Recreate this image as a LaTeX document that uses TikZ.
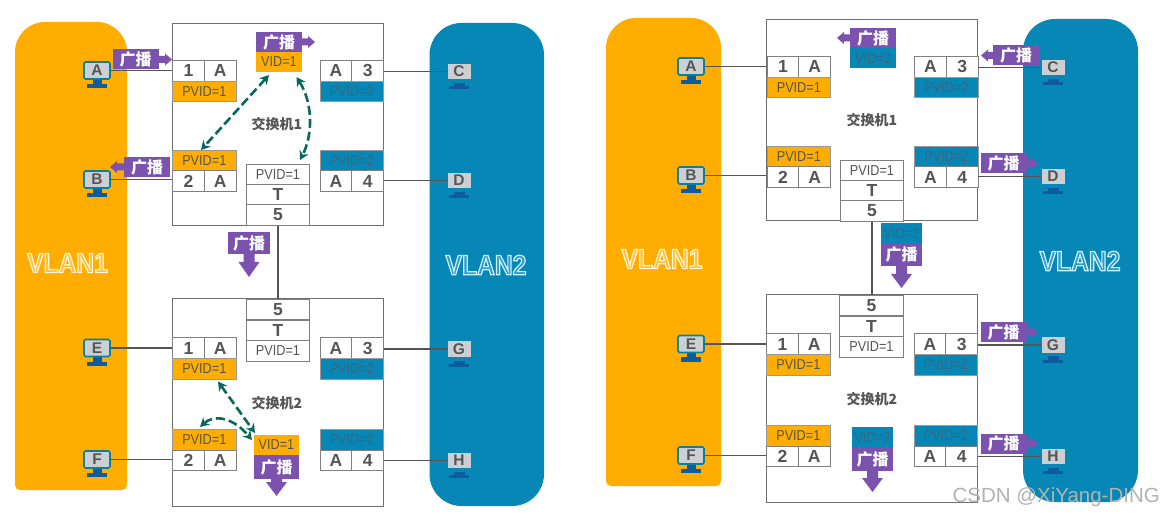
\documentclass[tikz,border=0pt]{standalone}
\usepackage{fontspec}
\setmainfont{Liberation Sans}
\newfontfamily\narrowf[FakeStretch=0.88]{Liberation Sans}
\newfontfamily\cjk{Noto Sans CJK SC}
\usetikzlibrary{arrows.meta}
\definecolor{vo}{HTML}{FFAD00}
\definecolor{vb}{HTML}{0687B5}
\definecolor{pu}{HTML}{7B52AE}
\definecolor{gl}{HTML}{555555}
\definecolor{dg}{HTML}{08695A}
\definecolor{tl}{HTML}{0B7F9E}
\definecolor{nv}{HTML}{0D5CA0}
\definecolor{scr}{HTML}{CDD0D3}
\definecolor{vofill}{HTML}{FFC23D}
\definecolor{vbfill}{HTML}{2E9CC6}
\definecolor{bt}{HTML}{3A6680}
\newcommand{\outlW}[1]{\special{pdf:code 2 Tr 1.2 w 1 0.96 0.85 RG}#1\special{pdf:code 0 Tr}}
\newcommand{\outlB}[1]{\special{pdf:code 2 Tr 1.2 w 0.8 0.95 1 RG}#1\special{pdf:code 0 Tr}}
\tikzset{
 x=1pt,y=-1pt,
 sw/.style={draw=gl!85,line width=1pt,fill=white,inner sep=0},
 cell/.style={draw=gl!75,line width=0.8pt,fill=white,minimum height=20.6pt,inner sep=0,text=gl,font=\bfseries\fontsize{17.5}{17.5}\selectfont},
 ptag/.style={cell,font=\narrowf\fontsize{14.4}{14.4}\selectfont},
 oc/.style={ptag,fill=vo,draw=gl!60,minimum width=63.5pt},
 bc/.style={ptag,fill=vb,draw=gl!60,minimum width=63.5pt,text=bt},
 wc/.style={ptag,minimum width=63.5pt},
 lnk/.style={draw=gl,line width=1.3pt},
 trunk/.style={draw=gl,line width=2.8pt},
 sname/.style={font=\cjk\bfseries\fontsize{14}{14}\selectfont,text=gl},
 bcast/.style={fill=pu,text=white,inner sep=0,font=\cjk\bfseries\fontsize{16}{16}\selectfont},
 vtag/.style={inner sep=0,font=\narrowf\fontsize{14.4}{14.4}\selectfont},
 vlan/.style={inner sep=0,font=\narrowf\bfseries\fontsize{28}{28}\selectfont},
 flow/.style={draw=dg,line width=2.6pt,dash pattern=on 9pt off 4pt,{Stealth[length=9pt,width=10pt]}-{Stealth[length=9pt,width=10pt]}},
 hostl/.style={inner sep=0,text=gl,font=\bfseries\fontsize{15.5}{15.5}\selectfont},
}
\newcommand{\hostL}[4]{%
 \fill[nv] (#3-10,#4+13.5) rectangle (#3+10,#4+17.5);
 \fill[nv] (#3-4.5,#4+9) rectangle (#3+4.5,#4+14);
 \node[draw=tl,line width=1.6pt,fill=scr,minimum width=26pt,minimum height=17pt,rounded corners=1.5pt,hostl] (#1) at (#3,#4) {#2};
}
\newcommand{\hostR}[4]{%
 \fill[nv] (#3-10,#4+14.5) rectangle (#3+10,#4+17.5);
 \fill[nv] (#3-5.5,#4+11.5) rectangle (#3+5.5,#4+15);
 \node[fill=scr,minimum width=23pt,minimum height=15.5pt,hostl] (#1) at (#3,#4) {#2};
}
\newcommand{\portTL}[5]{%
 \node[cell,minimum width=31.7pt] (#1n) at (#2+15.9,#3+10.3) {#4};
 \node[cell,minimum width=31.8pt] (#1a) at (#2+47.7,#3+10.3) {A};
 \node[#5] (#1p) at (#2+31.8,#3+31) {PVID=1};
}
\newcommand{\portBL}[5]{%
 \node[#5] (#1p) at (#2+31.8,#3+10.3) {PVID=1};
 \node[cell,minimum width=31.7pt] (#1n) at (#2+15.9,#3+31) {#4};
 \node[cell,minimum width=31.8pt] (#1a) at (#2+47.7,#3+31) {A};
}
\newcommand{\portTR}[4]{%
 \node[cell,minimum width=31.8pt] (#1a) at (#2+15.9,#3+10.3) {A};
 \node[cell,minimum width=31.7pt] (#1n) at (#2+47.7,#3+10.3) {#4};
 \node[bc] (#1p) at (#2+31.8,#3+31) {PVID=2};
}
\newcommand{\portBR}[4]{%
 \node[bc] (#1p) at (#2+31.8,#3+10.3) {PVID=2};
 \node[cell,minimum width=31.8pt] (#1a) at (#2+15.9,#3+31) {A};
 \node[cell,minimum width=31.7pt] (#1n) at (#2+47.7,#3+31) {#4};
}
% name, cx, cy, tip offset
\newcommand{\bcR}[4]{%
 \fill[pu] (#2+22,#3-3.5) -- (#2+#4-7,#3-3.5) -- (#2+#4-7,#3-6) -- (#2+#4,#3) -- (#2+#4-7,#3+6) -- (#2+#4-7,#3+3.5) -- (#2+22,#3+3.5) -- cycle;
 \node[bcast,minimum width=46pt,minimum height=20pt] (#1) at (#2,#3) {广播};
}
\newcommand{\bcL}[4]{%
 \fill[pu] (#2-22,#3-3.5) -- (#2-#4+7,#3-3.5) -- (#2-#4+7,#3-6) -- (#2-#4,#3) -- (#2-#4+7,#3+6) -- (#2-#4+7,#3+3.5) -- (#2-22,#3+3.5) -- cycle;
 \node[bcast,minimum width=46pt,minimum height=20pt] (#1) at (#2,#3) {广播};
}
% name, cx, ytop, ybottom, yhead, ytip, width
\newcommand{\bcD}[7]{%
 \fill[pu] (#2-5.5,#4-1) -- (#2+5.5,#4-1) -- (#2+5.5,#5) -- (#2+10.5,#5) -- (#2,#6) -- (#2-10.5,#5) -- (#2-5.5,#5) -- cycle;
 \pgfmathsetmacro{\bch}{#4-#3}\pgfmathsetmacro{\bcy}{(#4+#3)/2}%
 \node[bcast,minimum width=#7pt,minimum height=\bch pt] (#1) at (#2,\bcy) {广播};
}
\begin{document}
\begin{tikzpicture}
\useasboundingbox (0,0) rectangle (1164,518);
\fill[white] (0,0) rectangle (1164,518);
% ---- regions
\fill[vo,rounded corners=5pt] (15,300) -- (15,490) -- (127,490) -- (127,300) [rounded corners=30pt] -- (127,22) -- (15,22) -- cycle;
\fill[vb,rounded corners=32pt] (429.5,23) rectangle (544,506);
\fill[vo,rounded corners=5pt] (606,300) -- (606,486) -- (721,486) -- (721,300) [rounded corners=30pt] -- (721,18) -- (606,18) -- cycle;
\fill[vb,rounded corners=32pt] (1023,19) rectangle (1138,502);
\node[vlan,text=vofill] (v1) at (67.5,263) {\outlW{VLAN1}};
\node[vlan,text=vbfill] (v2) at (486,265) {\outlB{VLAN2}};
\node[vlan,text=vofill] (v3) at (662,259) {\outlW{VLAN1}};
\node[vlan,text=vbfill] (v4) at (1080,261) {\outlB{VLAN2}};
% ---- switches left panel
\node[sw,minimum width=211pt,minimum height=201.5pt] (s1) at (277.5,124.3) {};
\node[sw,minimum width=211pt,minimum height=207pt] (s2) at (277.5,402.5) {};
\portTL{la}{172.5}{60.5}{1}{oc}
\portBL{lb}{172.5}{150}{2}{oc}
\portTR{lc}{320}{60.5}{3}
\portBR{ld}{320}{150}{4}
\node[wc] (l5p) at (278,174.3) {PVID=1};
\node[cell,minimum width=63.5pt] (l5t) at (278,194.6) {T};
\node[cell,minimum width=63.5pt] (l5n) at (278,215) {5};
\portTL{le}{172.5}{337.7}{1}{oc}
\portBL{lf}{172.5}{429.5}{2}{oc}
\portTR{lg}{320}{337.7}{3}
\portBR{lh}{320}{429.5}{4}
\node[cell,minimum width=63.5pt] (m5n) at (278,309.5) {5};
\node[cell,minimum width=63.5pt] (m5t) at (278,330.3) {T};
\node[wc] (m5p) at (278,351) {PVID=1};
\node[sname] (sn1) at (277,124) {交换机1};
\node[sname] (sn2) at (277,403) {交换机2};
% ---- hosts left
\hostL{A}{A}{97}{70.5}
\hostL{B}{B}{97}{179.5}
\hostL{E}{E}{97}{348}
\hostL{F}{F}{97}{459.5}
\hostR{C}{C}{459}{71.5}
\hostR{D}{D}{459}{180.5}
\hostR{G}{G}{459}{349}
\hostR{H}{H}{459}{460.5}
\draw[lnk] (A.east) -- (A.east -| s1.west);
\draw[lnk] (B.east) -- (B.east -| s1.west);
\draw[lnk] (E.east) -- (E.east -| s2.west);
\draw[lnk] (F.east) -- (F.east -| s2.west);
\draw[lnk] (C.west) -- (C.west -| s1.east);
\draw[lnk] (D.west) -- (D.west -| s1.east);
\draw[lnk] (G.west) -- (G.west -| s2.east);
\draw[lnk] (H.west) -- (H.west -| s2.east);
\draw[trunk] (l5n.south) -- (m5n.north);
% ---- left broadcasts
\bcR{b1}{135.5}{59.5}{36.5}
\bcL{b2}{147}{167}{37}
\bcR{b3}{279}{42}{36}
\node[vtag,fill=vo,text=gl,minimum width=46pt,minimum height=20pt] (t1) at (279,62) {VID=1};
\bcD{b4}{249}{232}{254}{262}{277}{42}
\node[vtag,fill=vo,text=gl,minimum width=45pt,minimum height=20pt] (t2) at (276.5,445) {VID=1};
\bcD{b5}{276.5}{455}{479}{482}{496}{45}
\coordinate (f1) at (269,75);
\coordinate (f2) at (296.5,77);
\coordinate (f3) at (300,160);
\coordinate (f4) at (218,381.5);
\coordinate (f5) at (255,433);
\coordinate (f6) at (200,427);
\coordinate (f7) at (252,440);
\coordinate (f8) at (201,150);
\draw[flow] (f1) -- (f8);
\draw[flow] (f2) .. controls (313,103) and (313,135) .. (f3);
\draw[flow] (f4) -- (f5);
\draw[flow] (f6) .. controls (213,415) and (232,416) .. (f7);
% ---- right panel
\node[sw,minimum width=211pt,minimum height=201.5pt] (r1) at (872,120.2) {};
\node[sw,minimum width=211pt,minimum height=207pt] (r2) at (871.5,398.5) {};
\portTL{ra}{767}{56.5}{1}{oc}
\portBL{rb}{767}{146}{2}{oc}
\portTR{rc}{914.5}{56.5}{3}
\portBR{rd}{914.5}{146}{4}
\node[wc] (r5p) at (872,170.3) {PVID=1};
\node[cell,minimum width=63.5pt] (r5t) at (872,190.6) {T};
\node[cell,minimum width=63.5pt] (r5n) at (872,211) {5};
\portTL{re}{766.5}{333.7}{1}{oc}
\portBL{rf}{766.5}{425.5}{2}{oc}
\portTR{rg}{914}{333.7}{3}
\portBR{rh}{914}{425.5}{4}
\node[cell,minimum width=63.5pt] (q5n) at (871.5,305.5) {5};
\node[cell,minimum width=63.5pt] (q5t) at (871.5,326.3) {T};
\node[wc] (q5p) at (871.5,347) {PVID=1};
\node[sname] (sn3) at (872,120) {交换机1};
\node[sname] (sn4) at (872,399) {交换机2};
\hostL{RA}{A}{691}{66.5}
\hostL{RB}{B}{691}{175.5}
\hostL{RE}{E}{691}{344}
\hostL{RF}{F}{691}{455.5}
\hostR{RC}{C}{1053}{67.5}
\hostR{RD}{D}{1053}{176.5}
\hostR{RG}{G}{1053}{345}
\hostR{RH}{H}{1053}{456.5}
\draw[lnk] (RA.east) -- (RA.east -| r1.west);
\draw[lnk] (RB.east) -- (RB.east -| r1.west);
\draw[lnk] (RE.east) -- (RE.east -| r2.west);
\draw[lnk] (RF.east) -- (RF.east -| r2.west);
\draw[lnk] (RC.west) -- (RC.west -| r1.east);
\draw[lnk] (RD.west) -- (RD.west -| r1.east);
\draw[lnk] (RG.west) -- (RG.west -| r2.east);
\draw[lnk] (RH.west) -- (RH.west -| r2.east);
\draw[trunk] (r5n.south) -- (r5n.south |- q5n.north);
\bcL{c1}{873}{38}{36}
\node[vtag,fill=vb,text=bt,minimum width=46pt,minimum height=20pt] (u1) at (873,58) {VID=2};
\bcL{c2}{1016}{55.5}{35}
\bcR{c3}{1003.5}{163.5}{34.5}
\bcR{c4}{1003.5}{332}{34.5}
\bcR{c5}{1003.5}{443.5}{34.5}
\node[vtag,fill=vb,text=bt,minimum width=41pt,minimum height=20pt] (u2) at (901.5,233) {VID=2};
\bcD{c6}{901.5}{243}{266}{274}{288}{41}
\node[vtag,fill=vb,text=bt,minimum width=41pt,minimum height=21pt] (u3) at (872.5,437.5) {VID=2};
\bcD{c7}{872.5}{448}{471}{478}{492}{41}
% ---- watermark
\node[text=gray!60,font=\fontsize{20.5}{20.5}\selectfont,anchor=east,inner sep=0] (wm) at (1160,497) {CSDN @XiYang-DING};
\end{tikzpicture}
\end{document}
